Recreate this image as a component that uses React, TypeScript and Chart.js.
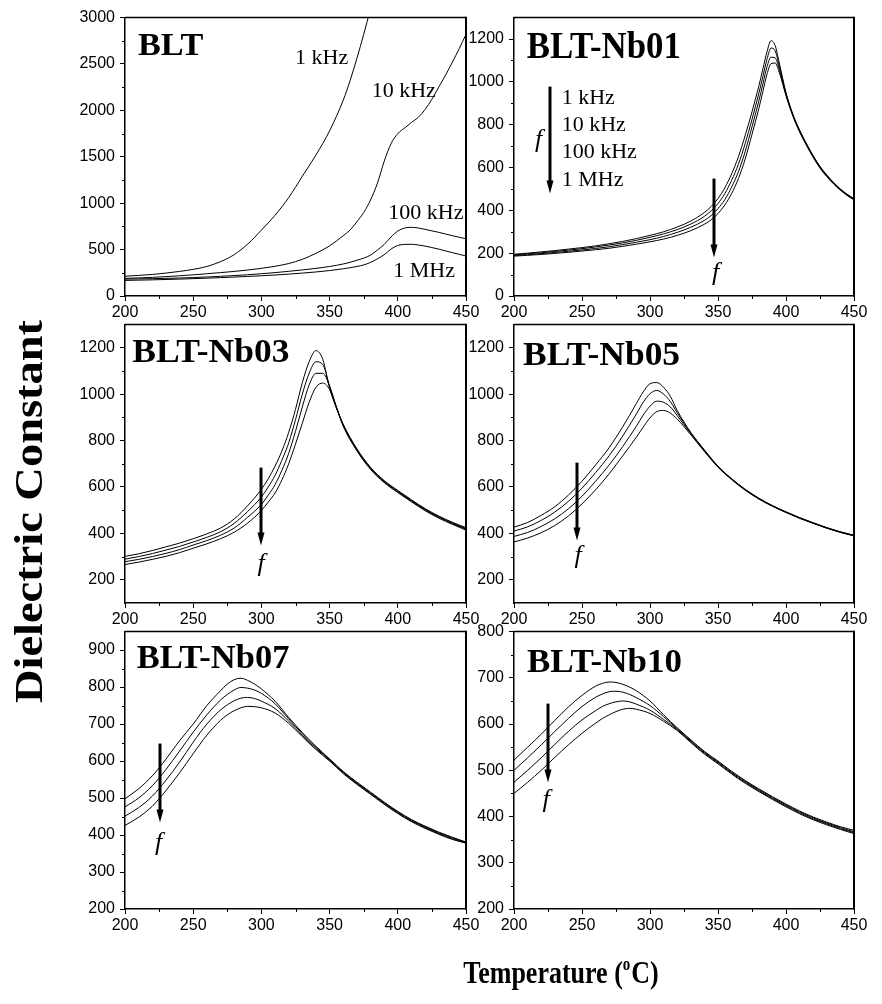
import React, { useEffect, useRef } from "react";
import { Chart, registerables } from "chart.js";

Chart.register(...registerables);

// ---------------- data ----------------
const SERIES_LABELS = ["1 kHz", "10 kHz", "100 kHz", "1 MHz"];
const X_TICKS = [200, 250, 300, 350, 400, 450];
const Y_TICKS_BLT = [0, 500, 1000, 1500, 2000, 2500, 3000];
const Y_TICKS_NB01 = [0, 200, 400, 600, 800, 1000, 1200];
const Y_TICKS_MID = [200, 400, 600, 800, 1000, 1200];
const Y_TICKS_NB07 = [200, 300, 400, 500, 600, 700, 800, 900];
const Y_TICKS_NB10 = [200, 300, 400, 500, 600, 700, 800];

const T_BLT = [200, 210, 220, 230, 240, 250, 260, 270, 280, 290, 300, 310, 320, 330, 340, 350, 360, 365, 370, 375, 380, 385, 390, 395, 400, 405, 410, 415, 420, 425, 430, 435, 440, 445, 450];
const BLT_1K = [213, 222, 232, 247, 265, 287, 318, 370, 445, 560, 710, 870, 1060, 1290, 1520, 1780, 2110, 2320, 2560, 2820, 3100, 3420, null, null, null, null, null, null, null, null, null, null, null, null, null];
const BLT_10K = [190, 195, 201, 209, 218, 228, 240, 252, 265, 280, 298, 320, 350, 395, 460, 540, 650, 711, 800, 900, 1034, 1213, 1450, 1640, 1750, 1810, 1870, 1925, 2010, 2120, 2250, 2380, 2520, 2665, 2820];
const BLT_100K = [182, 184, 187, 190, 194, 199, 205, 212, 220, 229, 240, 252, 266, 281, 298, 318, 345, 363, 385, 408, 440, 495, 555, 635, 700, 732, 740, 733, 718, 702, 686, 668, 650, 633, 617];
const BLT_1M = [168, 171, 174, 178, 182, 187, 192, 198, 204, 211, 218, 226, 236, 247, 259, 274, 293, 305, 318, 335, 362, 400, 445, 505, 545, 556, 557, 550, 538, 522, 505, 486, 467, 449, 431];

const T_NB01 = [200, 210, 220, 230, 240, 250, 260, 270, 280, 290, 300, 310, 320, 330, 340, 345, 350, 355, 360, 365, 370, 375, 380, 383, 386, 389, 392, 395, 400, 405, 410, 415, 420, 425, 430, 435, 440, 445, 450];
const NB01_1K = [195, 200, 206, 212, 219, 226, 234, 244, 255, 268, 283, 300, 322, 350, 390, 418, 455, 505, 570, 650, 750, 860, 980, 1060, 1140, 1192, 1170, 1090, 950, 850, 775, 712, 655, 605, 565, 530, 500, 475, 455];
const NB01_10K = [192, 197, 202, 208, 214, 221, 229, 238, 248, 260, 274, 290, 310, 336, 372, 398, 432, 478, 540, 615, 712, 825, 945, 1025, 1105, 1158, 1145, 1075, 945, 847, 772, 710, 653, 603, 563, 528, 498, 473, 453];
const NB01_100K = [189, 193, 198, 203, 209, 215, 222, 230, 240, 251, 263, 278, 297, 321, 353, 376, 408, 450, 508, 580, 675, 790, 910, 990, 1070, 1115, 1112, 1060, 940, 844, 769, 707, 650, 600, 560, 526, 496, 471, 451];
const NB01_1M = [186, 190, 194, 199, 204, 210, 216, 223, 232, 242, 253, 266, 283, 305, 335, 356, 385, 425, 478, 548, 640, 755, 875, 955, 1035, 1085, 1088, 1045, 935, 841, 766, 704, 647, 597, 557, 523, 494, 469, 449];

const T_NB03 = [200, 210, 220, 230, 240, 250, 260, 270, 280, 290, 300, 305, 310, 315, 320, 325, 330, 335, 340, 345, 350, 355, 360, 370, 380, 390, 400, 410, 420, 430, 440, 450];
const NB03_1K = [301, 312, 326, 342, 358, 377, 398, 423, 462, 520, 590, 635, 690, 755, 835, 935, 1050, 1140, 1188, 1150, 1025, 940, 870, 765, 685, 628, 585, 545, 507, 475, 448, 425];
const NB03_10K = [289, 300, 313, 328, 344, 363, 383, 407, 443, 495, 557, 600, 650, 715, 790, 890, 1000, 1090, 1140, 1128, 1035, 945, 868, 762, 682, 625, 582, 542, 504, 472, 445, 421];
const NB03_100K = [278, 288, 300, 314, 330, 350, 369, 392, 423, 470, 525, 565, 610, 672, 745, 840, 945, 1040, 1090, 1090, 1035, 945, 865, 759, 679, 622, 579, 539, 501, 469, 442, 418];
const NB03_1M = [266, 276, 288, 301, 317, 336, 355, 377, 405, 445, 499, 535, 574, 630, 700, 785, 875, 965, 1030, 1048, 1020, 942, 862, 756, 676, 619, 576, 536, 498, 466, 439, 414];

const T_NB05 = [200, 210, 220, 230, 240, 250, 260, 270, 280, 290, 295, 300, 305, 310, 315, 320, 325, 330, 340, 350, 360, 370, 380, 390, 400, 410, 420, 430, 440, 450];
const NB05_1K = [427, 447, 478, 515, 565, 625, 695, 770, 860, 960, 1010, 1045, 1050, 1030, 990, 930, 880, 835, 760, 690, 636, 590, 552, 520, 493, 468, 446, 425, 407, 392];
const NB05_10K = [410, 428, 456, 492, 538, 595, 662, 735, 820, 915, 965, 1002, 1016, 1000, 968, 920, 875, 833, 758, 688, 635, 589, 551, 519, 492, 467, 445, 424, 406, 391];
const NB05_100K = [387, 404, 430, 463, 506, 560, 625, 695, 775, 862, 910, 948, 970, 965, 945, 908, 868, 830, 756, 687, 634, 588, 550, 518, 491, 466, 444, 423, 405, 390];
const NB05_1M = [363, 380, 403, 434, 475, 527, 588, 657, 735, 815, 858, 898, 925, 930, 918, 893, 860, 825, 753, 685, 632, 586, 548, 517, 490, 465, 443, 422, 404, 389];

const T_NB07 = [200, 210, 220, 230, 240, 250, 260, 270, 275, 280, 285, 290, 295, 300, 310, 320, 330, 340, 350, 360, 370, 380, 390, 400, 410, 420, 430, 440, 450];
const NB07_1K = [498, 525, 560, 605, 655, 700, 750, 790, 808, 820, 824, 818, 808, 795, 762, 718, 677, 640, 606, 572, 543, 516, 489, 464, 442, 424, 408, 394, 381];
const NB07_10K = [476, 500, 533, 577, 627, 678, 725, 765, 780, 792, 799, 797, 792, 783, 755, 714, 674, 637, 604, 570, 541, 514, 487, 462, 440, 422, 406, 392, 380];
const NB07_100K = [451, 474, 505, 548, 597, 651, 700, 738, 752, 763, 770, 772, 769, 762, 742, 708, 670, 634, 602, 568, 539, 512, 485, 460, 438, 420, 404, 390, 379];
const NB07_1M = [426, 448, 478, 520, 568, 620, 670, 710, 725, 736, 744, 748, 747, 744, 730, 702, 666, 631, 600, 566, 537, 510, 483, 458, 436, 418, 402, 388, 378];

const T_NB10 = [200, 210, 220, 230, 240, 250, 260, 265, 270, 275, 280, 285, 290, 300, 310, 320, 330, 340, 350, 360, 370, 380, 390, 400, 410, 420, 430, 440, 450];
const NB10_1K = [522, 550, 578, 608, 637, 662, 682, 688, 691, 690, 686, 680, 672, 650, 620, 592, 566, 541, 520, 498, 478, 460, 443, 427, 412, 399, 388, 378, 370];
const NB10_10K = [500, 527, 555, 584, 612, 638, 658, 665, 670, 671, 669, 664, 657, 640, 616, 590, 564, 539, 518, 496, 476, 458, 441, 425, 410, 397, 386, 376, 367];
const NB10_100K = [474, 500, 527, 556, 584, 609, 629, 638, 644, 648, 650, 648, 643, 630, 610, 588, 562, 537, 516, 494, 474, 456, 439, 423, 408, 395, 384, 374, 365];
const NB10_1M = [450, 474, 500, 528, 555, 580, 602, 612, 620, 627, 632, 634, 632, 623, 606, 586, 560, 535, 514, 492, 472, 454, 437, 421, 406, 393, 382, 372, 363];

const Y_TITLE = "Dielectric Constant";

// ---------------- styling / layout ----------------
const SANS = '"Liberation Sans", Arial, sans-serif';
const SERIF = '"Liberation Serif", "Times New Roman", serif';
const F_TITLE = `bold 33px ${SERIF}`;
const F_TITLE_S = `bold 32px ${SERIF}`;
const F_LAB = `22px ${SERIF}`;
const F_F = `italic 26px ${SERIF}`;

const PAD_L = 76;
const PAD_T = 14;
const PAD_R = 24;
const PAD_B = 34;

const PANELS = [
  {
    key: "blt", left: 125, top: 17, w: 341, h: 279,
    T: T_BLT, series: [BLT_1K, BLT_10K, BLT_100K, BLT_1M],
    yMin: 0, yMax: 3000, yTicks: Y_TICKS_BLT, yMinor: 250,
    notes: [
      { text: "BLT", dx: 13, dy: 37, font: F_TITLE_S, sx: 1.07 },
      { text: SERIES_LABELS[0], dx: 170, dy: 46.7, font: F_LAB },
      { text: SERIES_LABELS[1], dx: 246.7, dy: 79.7, font: F_LAB },
      { text: SERIES_LABELS[2], dx: 263.3, dy: 201.3, font: F_LAB },
      { text: SERIES_LABELS[3], dx: 268.3, dy: 259, font: F_LAB },
    ],
    arrows: [],
  },
  {
    key: "nb01", left: 514, top: 17, w: 340, h: 279,
    T: T_NB01, series: [NB01_1K, NB01_10K, NB01_100K, NB01_1M],
    yMin: 0, yMax: 1300, yTicks: Y_TICKS_NB01, yMinor: 100,
    notes: [
      { text: "BLT-Nb01", dx: 12.7, dy: 40.7, font: F_TITLE, sx: 1.055, sy: 1.12 },
      { text: SERIES_LABELS[0], dx: 47.7, dy: 86.3, font: F_LAB },
      { text: SERIES_LABELS[1], dx: 47.7, dy: 113.7, font: F_LAB },
      { text: SERIES_LABELS[2], dx: 47.7, dy: 140.3, font: F_LAB },
      { text: SERIES_LABELS[3], dx: 47.7, dy: 168, font: F_LAB },
      { text: "f", dx: 24.5, dy: 129.6, font: F_F, align: "center" },
      { text: "f", dx: 201.5, dy: 262.6, font: F_F, align: "center" },
    ],
    arrows: [{ dx: 36, y1: 69, y2: 176 }, { dx: 200, y1: 161, y2: 240 }],
  },
  {
    key: "nb03", left: 125, top: 324, w: 341, h: 279,
    T: T_NB03, series: [NB03_1K, NB03_10K, NB03_100K, NB03_1M],
    yMin: 100, yMax: 1300, yTicks: Y_TICKS_MID, yMinor: 100,
    notes: [
      { text: "BLT-Nb03", dx: 7.3, dy: 37.7, font: F_TITLE, sx: 1.075 },
      { text: "f", dx: 136, dy: 246.6, font: F_F, align: "center" },
    ],
    arrows: [{ dx: 136, y1: 143, y2: 221 }],
  },
  {
    key: "nb05", left: 514, top: 324, w: 340, h: 279,
    T: T_NB05, series: [NB05_1K, NB05_10K, NB05_100K, NB05_1M],
    yMin: 100, yMax: 1300, yTicks: Y_TICKS_MID, yMinor: 100,
    notes: [
      { text: "BLT-Nb05", dx: 9, dy: 40, font: F_TITLE, sx: 1.075 },
      { text: "f", dx: 64, dy: 238.6, font: F_F, align: "center" },
    ],
    arrows: [{ dx: 63, y1: 138, y2: 216 }],
  },
  {
    key: "nb07", left: 125, top: 631, w: 341, h: 278,
    T: T_NB07, series: [NB07_1K, NB07_10K, NB07_100K, NB07_1M],
    yMin: 200, yMax: 950, yTicks: Y_TICKS_NB07, yMinor: 50,
    notes: [
      { text: "BLT-Nb07", dx: 11.7, dy: 36.7, font: F_TITLE, sx: 1.045 },
      { text: "f", dx: 33.7, dy: 218.6, font: F_F, align: "center" },
    ],
    arrows: [{ dx: 35, y1: 112, y2: 191 }],
  },
  {
    key: "nb10", left: 514, top: 631, w: 340, h: 278,
    T: T_NB10, series: [NB10_1K, NB10_10K, NB10_100K, NB10_1M],
    yMin: 200, yMax: 800, yTicks: Y_TICKS_NB10, yMinor: 50,
    notes: [
      { text: "BLT-Nb10", dx: 13, dy: 40, font: F_TITLE, sx: 1.06 },
      { text: "f", dx: 32, dy: 175.6, font: F_F, align: "center" },
    ],
    arrows: [{ dx: 34, y1: 72, y2: 151 }],
  },
];

function Panel({ p }: { p: any }) {
  const ref = useRef<HTMLCanvasElement>(null);
  const cw = p.w + PAD_L + PAD_R;
  const ch = p.h + PAD_T + PAD_B;

  useEffect(() => {
    const deco = {
      id: "deco-" + p.key,
      afterDraw(chart: any) {
        const { ctx, chartArea: a, scales } = chart;
        const xs = scales.x;
        const ys = scales.y;
        ctx.save();
        ctx.strokeStyle = "#000";
        ctx.fillStyle = "#000";
        // frame top/right
        ctx.lineWidth = 1.5;
        ctx.beginPath();
        ctx.moveTo(a.left, a.top);
        ctx.lineTo(a.right, a.top);
        ctx.stroke();
        ctx.lineWidth = 2;
        ctx.beginPath();
        ctx.moveTo(a.right, a.top - 0.75);
        ctx.lineTo(a.right, a.bottom + 0.75);
        ctx.stroke();
        // minor ticks
        ctx.lineWidth = 1;
        for (let v = 225; v < 450; v += 50) {
          const x = Math.round(xs.getPixelForValue(v)) + 0.5;
          ctx.beginPath();
          ctx.moveTo(x, a.bottom);
          ctx.lineTo(x, a.bottom + 3);
          ctx.stroke();
        }
        for (let v = p.yMin + p.yMinor; v < p.yMax; v += p.yMinor) {
          if (p.yTicks.includes(v)) continue;
          const y = Math.round(ys.getPixelForValue(v)) + 0.5;
          ctx.beginPath();
          ctx.moveTo(a.left - 3, y);
          ctx.lineTo(a.left, y);
          ctx.stroke();
        }
        // arrows
        for (const ar of p.arrows) {
          const x = a.left + ar.dx;
          const y1 = a.top + ar.y1;
          const y2 = a.top + ar.y2;
          ctx.lineWidth = 3;
          ctx.beginPath();
          ctx.moveTo(x, y1);
          ctx.lineTo(x, y2 - 10);
          ctx.stroke();
          ctx.beginPath();
          ctx.moveTo(x - 3.5, y2 - 13);
          ctx.lineTo(x + 3.5, y2 - 13);
          ctx.lineTo(x, y2);
          ctx.closePath();
          ctx.fill();
        }
        // texts
        ctx.textBaseline = "alphabetic";
        for (const n of p.notes) {
          ctx.save();
          ctx.font = n.font;
          ctx.textAlign = n.align || "left";
          ctx.translate(a.left + n.dx, a.top + n.dy);
          ctx.scale(n.sx || 1, n.sy || 1);
          ctx.fillText(n.text, 0, 0);
          ctx.restore();
        }
        ctx.restore();
      },
    };

    const chart = new Chart(ref.current as HTMLCanvasElement, {
      type: "line",
      data: {
        datasets: p.series.map((vals: (number | null)[], i: number) => ({
          label: SERIES_LABELS[i],
          data: p.T.map((t: number, j: number) => ({ x: t, y: vals[j] })),
          borderColor: "#000",
          borderWidth: 1,
          pointRadius: 0,
          fill: false,
          cubicInterpolationMode: "monotone",
          spanGaps: false,
        })),
      },
      options: {
        animation: false,
        responsive: false,
        devicePixelRatio: 1,
        events: [],
        layout: { padding: { top: PAD_T, right: PAD_R, left: 0, bottom: 0 } },
        plugins: { legend: { display: false }, tooltip: { enabled: false } },
        scales: {
          x: {
            type: "linear",
            min: 200,
            max: 450,
            afterBuildTicks: (s: any) => {
              s.ticks = X_TICKS.map((v) => ({ value: v }));
            },
            afterFit: (s: any) => {
              s.height = PAD_B;
            },
            grid: { drawOnChartArea: false, drawTicks: true, tickLength: 5, color: "#000", tickColor: "#000", lineWidth: 1 },
            border: { display: true, color: "#000", width: 1.5 },
            ticks: {
              color: "#000",
              font: { family: SANS, size: 16 },
              padding: 2,
              maxRotation: 0,
              autoSkip: false,
              callback: (v: any) => String(v),
            },
          },
          y: {
            type: "linear",
            min: p.yMin,
            max: p.yMax,
            afterBuildTicks: (s: any) => {
              s.ticks = p.yTicks.map((v: number) => ({ value: v }));
            },
            afterFit: (s: any) => {
              s.width = PAD_L;
            },
            grid: { drawOnChartArea: false, drawTicks: true, tickLength: 5, color: "#000", tickColor: "#000", lineWidth: 1 },
            border: { display: true, color: "#000", width: 1.5 },
            ticks: {
              color: "#000",
              font: { family: SANS, size: 16 },
              padding: 5,
              autoSkip: false,
              callback: (v: any) => String(v),
            },
          },
        },
      },
      plugins: [deco],
    } as any);
    return () => chart.destroy();
  }, []);

  return (
    <canvas
      ref={ref}
      width={cw}
      height={ch}
      style={{ position: "absolute", left: p.left - PAD_L, top: p.top - PAD_T, width: cw, height: ch }}
    />
  );
}

function AxisTitles() {
  const ref = useRef<HTMLCanvasElement>(null);
  useEffect(() => {
    const c = ref.current as HTMLCanvasElement;
    const ctx = c.getContext("2d") as CanvasRenderingContext2D;
    ctx.clearRect(0, 0, c.width, c.height);
    ctx.fillStyle = "#000";
    // Y title
    ctx.save();
    ctx.font = `bold 39px ${SERIF}`;
    const w = ctx.measureText(Y_TITLE).width;
    ctx.translate(42, 511.5);
    ctx.rotate(-Math.PI / 2);
    ctx.scale(383 / w, 1);
    ctx.textAlign = "center";
    ctx.textBaseline = "alphabetic";
    ctx.fillText(Y_TITLE, 0, 0);
    ctx.restore();
    // X title
    ctx.save();
    ctx.translate(561, 983);
    ctx.scale(1, 1.25);
    ctx.textBaseline = "alphabetic";
    ctx.textAlign = "left";
    const main = `bold 26px ${SERIF}`;
    const sup = `bold 15px ${SERIF}`;
    const s1 = "Temperature (";
    const s2 = "o";
    const s3 = "C)";
    ctx.font = main;
    const w1 = ctx.measureText(s1).width;
    const w3 = ctx.measureText(s3).width;
    ctx.font = sup;
    const w2 = ctx.measureText(s2).width;
    const total = w1 + w2 + w3 + 1;
    let x = -total / 2;
    ctx.font = main;
    ctx.fillText(s1, x, 0);
    x += w1;
    ctx.font = sup;
    ctx.fillText(s2, x, -10.5);
    x += w2 + 1;
    ctx.font = main;
    ctx.fillText(s3, x, 0);
    ctx.restore();
  }, []);
  return <canvas ref={ref} width={882} height={1004} style={{ position: "absolute", left: 0, top: 0, width: 882, height: 1004 }} />;
}

export default function App() {
  return (
    <div style={{ position: "absolute", left: 0, top: 0, width: 882, height: 1004, background: "#fff", overflow: "hidden" }}>
      <AxisTitles />
      {PANELS.map((p) => (
        <Panel key={p.key} p={p} />
      ))}
    </div>
  );
}
